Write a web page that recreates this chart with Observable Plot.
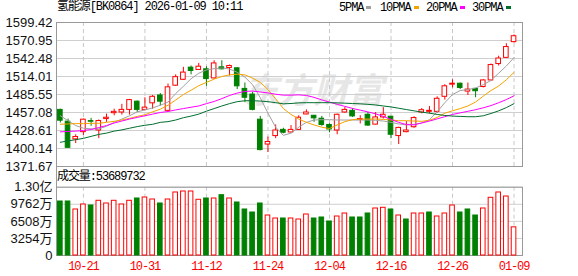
<!DOCTYPE html>
<html><head><meta charset="utf-8">
<script src="https://cdn.jsdelivr.net/npm/d3@7"></script>
<script src="https://cdn.jsdelivr.net/npm/@observablehq/plot@0.6"></script>
<style>
html,body{margin:0;padding:0;background:#fff;}
#root{position:relative;width:578px;height:276px;overflow:hidden;}
#root svg{position:absolute;left:0;}
.mono{font-family:"Liberation Mono","Noto Sans CJK SC",monospace;font-size:12px;letter-spacing:-1.1px;line-height:12px;color:#000;position:absolute;white-space:nowrap;}
.sw{display:inline-block;width:5px;height:3px;margin-left:3px;vertical-align:2px;}
.vol g[aria-label="x-axis tick label"] text{letter-spacing:-1.1px;}
</style></head><body><div id="root"></div>
<script>
// ---------- data ----------
const title = "氢能源[BK0864] 2026-01-09 10:11";
const volumeLabel = "成交量:53689732";
const dates = ["10-16","10-17","10-20","10-21","10-22","10-23","10-24","10-27","10-28","10-29","10-30","10-31",
"11-03","11-04","11-05","11-06","11-07","11-10","11-11","11-12","11-13","11-14","11-17","11-18","11-19","11-20","11-21","11-24","11-25","11-26","11-27","11-28",
"12-01","12-02","12-03","12-04","12-05","12-08","12-09","12-10","12-11","12-12","12-15","12-16","12-17","12-18","12-19","12-22","12-23","12-24","12-25","12-26","12-29","12-30","12-31",
"01-05","01-06","01-07","01-08","01-09"];
const open  = [1461.2,1442.6,1414.6,1426.0,1443.5,1428.6,1446.7,1456.0,1457.1,1461.2, 1474.2,1461.2,1471.6,1484.0,1459.7,1499.5,1508.8,1528.0,1524.4,1525.4, 1511.0,1528.5,1527.5,1527.0,1494.4,1485.5,1445.7,1406.4,1419.8,1429.6, 1425.5,1429.6,1454.0,1451.9,1447.2,1437.4,1428.6,1457.1,1459.7,1445.2, 1453.5,1437.9,1449.3,1450.4,1419.8,1426.0,1433.8,1457.1,1458.1,1458.1, 1481.9,1501.1,1502.6,1490.2,1494.4,1497.4,1507.8,1533.7,1543.5,1568.4];
const high  = [1462.3,1446.7,1421.9,1446.7,1447.8,1445.2,1454.5,1462.3,1470.0,1477.8, 1475.2,1480.4,1484.0,1487.1,1502.1,1516.6,1528.5,1530.6,1534.7,1529.5, 1538.9,1538.9,1532.1,1528.0,1503.7,1489.2,1450.9,1418.3,1437.4,1432.2, 1436.4,1451.9,1461.2,1452.4,1450.9,1439.0,1454.5,1464.8,1463.3,1451.9, 1457.1,1457.1,1464.8,1450.9,1433.8,1442.6,1450.4,1463.3,1466.4,1481.9, 1501.1,1508.8,1503.7,1503.7,1494.9,1508.8,1533.7,1546.1,1565.8,1579.8];
const low   = [1440.5,1400.7,1407.9,1420.8,1435.3,1415.7,1441.5,1451.9,1452.9,1452.9, 1457.1,1459.7,1462.3,1467.4,1458.1,1498.5,1507.8,1516.6,1524.4,1498.5, 1509.9,1524.4,1515.0,1493.3,1472.6,1459.7,1396.5,1393.9,1415.7,1423.4, 1424.5,1428.6,1453.5,1441.5,1435.3,1425.0,1421.9,1456.0,1449.3,1439.0, 1435.3,1437.4,1446.7,1415.7,1406.4,1425.0,1432.2,1455.0,1455.0,1456.0, 1476.7,1495.9,1493.3,1484.0,1480.4,1495.9,1506.8,1530.6,1542.5,1566.8];
const close = [1444.1,1401.2,1418.3,1445.7,1442.5,1443.6,1448.8,1458.1,1461.2,1476.7, 1461.2,1464.8,1481.9,1474.2,1496.9,1513.0,1520.2,1522.8,1529.5,1509.9, 1534.7,1525.4,1530.6,1498.5,1480.4,1461.2,1397.6,1410.5,1428.6,1425.0, 1429.6,1448.8,1457.1,1447.8,1437.4,1430.2,1453.5,1461.2,1450.9,1446.7, 1436.4,1449.3,1453.5,1421.9,1432.7,1428.6,1448.3,1460.7,1459.7,1478.8, 1498.5,1502.6,1495.9,1493.3,1490.7,1507.8,1532.1,1542.5,1560.6,1577.7];
const ma5  = [1451.9,1444.1,1436.4,1432.2,1431.2,1431.2,1435.3,1441.5,1446.7,1451.9, 1458.1,1461.2,1464.3,1468.5,1473.6,1487.1,1498.5,1510.4,1519.2,1524.4, 1526.4,1527.5,1525.9,1520.7,1513.0,1501.1,1480.4,1456.0,1433.8,1420.9, 1424.5,1433.8,1441.5,1445.2,1445.7,1445.7,1445.2,1445.2,1445.2,1445.2, 1445.2,1444.7,1443.6,1441.5,1439.0,1437.4,1438.4,1440.5,1445.7,1458.1, 1472.6,1485.5,1491.8,1493.3,1495.9,1501.1,1507.8,1519.2,1530.6,1544.0];
const ma10 = [1438.4,1439.0,1439.5,1439.5,1440.0,1440.0,1441.5,1443.1,1445.2,1447.8, 1450.9,1453.5,1458.1,1462.3,1468.5,1476.8,1485.5,1492.3,1499.5,1504.7, 1509.9,1514.0,1516.6,1517.6,1516.6,1511.4,1504.7,1493.3,1478.8,1463.3, 1454.0,1446.7,1441.5,1437.4,1433.8,1431.7,1437.4,1442.6,1445.7,1446.7, 1446.7,1446.7,1446.2,1445.2,1444.1,1444.1,1443.6,1443.1,1444.7,1449.3, 1456.0,1459.7,1463.3,1467.4,1473.6,1483.0,1491.8,1499.0,1508.8,1520.7];
const ma20 = [1426.5,1427.1,1427.6,1428.6,1430.2,1433.3,1436.4,1440.5,1443.6,1446.7, 1449.3,1451.9,1454.5,1457.1,1458.6,1461.2,1463.3,1465.4,1467.4,1471.1, 1474.5,1479.0,1484.0,1487.8,1490.4,1491.0,1489.5,1488.0,1486.0,1484.5, 1484.5,1485.0,1484.0,1481.0,1477.0,1473.5,1470.0,1466.8,1463.5,1460.8, 1458.0,1455.0,1451.0,1446.0,1441.5,1438.0,1437.5,1440.5,1443.5,1447.0, 1450.5,1454.0,1456.5,1459.0,1461.5,1464.5,1468.0,1472.5,1477.5,1483.5];
const ma30 = [1410.0,1412.1,1414.1,1416.2,1419.3,1422.4,1424.5,1427.6,1429.6,1432.2, 1434.8,1436.9,1438.4,1441.5,1442.6,1445.2,1448.8,1451.4,1454.5,1459.2, 1463.3,1467.4,1471.1,1474.2,1475.7,1475.7,1475.2,1474.2,1472.6,1470.8, 1471.3,1472.3,1472.6,1472.6,1472.6,1472.6,1472.3,1471.8,1471.3,1470.8, 1470.0,1469.0,1467.4,1465.9,1463.8,1461.7,1459.7,1457.6,1456.0,1454.0, 1452.4,1451.4,1450.9,1450.4,1450.4,1451.9,1455.5,1459.7,1464.8,1471.1];
const volume = [102920000,102920000,87680000,97210000,95300000,104260000,99110000,104260000,97210000,104260000,
 108640000,110550000,106740000,99110000,106740000,120080000,121980000,121980000,106170000,108640000,
 108640000,114930000,108640000,101020000,87680000,81960000,99110000,76240000,70520000,70520000,
 70520000,68620000,78150000,70520000,72430000,64800000,74330000,80050000,72430000,72430000,
 80050000,89580000,90920000,87680000,76240000,68620000,80050000,80050000,81960000,74330000,
 80050000,95300000,81960000,87680000,76240000,89580000,109980000,120080000,112450000,53689732];
const volUp = [0,0,1,1,0,1,1,1,1,1, 0,1,1,0,1,1,1,1,1,0, 1,0,1,0,0,0,0,1,1,0, 1,1,1,0,0,0,1,1,0,0, 0,1,1,0,1,0,1,1,0,1, 1,1,0,0,0,1,1,1,1,1];
const priceTicks = [1371.67,1400.14,1428.61,1457.08,1485.55,1514.01,1542.48,1570.95,1599.42];
const volTicks = [0,32540000,65080000,97620000,130160000];
const volTickLabels = ["0","3254万","6508万","9762万","1.30亿"];
const xTickDates = ["10-21","10-31","11-12","11-24","12-04","12-16","12-26","01-09"];
const maNames = ["5PMA","10PMA","20PMA","30PMA"];
const maColors = ["#a0a0a0","#f5a300","#ff00ff","#006f2e"];

// ---------- chart ----------
const RED = "#ff0000", GREEN = "#008000";
const idx = d3.range(dates.length);
const candles = idx.map(i => ({i, o: open[i], h: high[i], l: low[i], c: close[i]}));
const isUp = d => d.c >= d.o;
const xTickIdx = xTickDates.map(t => dates.indexOf(t));
const xDomain = [-0.5, 60.1];
const sans = "Liberation Sans, Noto Sans CJK SC, sans-serif";
const mono = "Liberation Mono, Noto Sans CJK SC, monospace";
const mas = [ma5, ma10, ma20, ma30];

const price = Plot.plot({
  width: 578, height: 170,
  marginLeft: 56, marginRight: 56, marginTop: 22, marginBottom: 4,
  x: {domain: xDomain, axis: null},
  y: {domain: [priceTicks[0], priceTicks[priceTicks.length - 1]], axis: null},
  style: {background: "transparent", overflow: "visible"},
  marks: [
    Plot.text(["东方财富"], {frameAnchor: "middle", dx: 24, dy: -3, fontSize: 35, fontWeight: "bold", fontStyle: "italic", fontFamily: "Noto Sans CJK SC", fill: "#e6e6e6"}),
    Plot.gridY(priceTicks, {stroke: "#cfcfcf", strokeOpacity: 1}),
    Plot.ruleX(xTickIdx, {stroke: "#c8c8c8", strokeDasharray: "4,3"}),
    Plot.frame({stroke: "#999"}),
    Plot.axisY(priceTicks, {tickSize: 0, tickPadding: 4, tickFormat: d => d.toFixed(2), fontSize: 13, fontFamily: sans, fill: "#111"}),
    Plot.ruleX(candles, {x: "i", y1: "l", y2: "h", stroke: d => isUp(d) ? RED : GREEN}),
    Plot.rect(candles, {x1: d => d.i - 0.3, x2: d => d.i + 0.3, y1: "o", y2: "c", fill: d => isUp(d) ? "#fff" : GREEN, stroke: d => isUp(d) ? RED : GREEN}),
    ...mas.map((m, k) => Plot.line(idx, {x: i => i, y: i => m[i], stroke: maColors[k], strokeWidth: 1}))
  ]
});
price.style.top = "0px";

const vol = Plot.plot({
  width: 578, height: 106,
  marginLeft: 56, marginRight: 56, marginTop: 16.7, marginBottom: 21,
  className: "vol",
  x: {domain: xDomain, axis: null},
  y: {domain: [0, volTicks[volTicks.length - 1]], axis: null},
  style: {background: "transparent", overflow: "visible"},
  marks: [
    Plot.gridY(volTicks, {stroke: "#cfcfcf", strokeOpacity: 1}),
    Plot.ruleX(xTickIdx, {stroke: "#c8c8c8", strokeDasharray: "4,3"}),
    Plot.frame({stroke: "#999"}),
    Plot.axisY(volTicks, {tickSize: 0, tickPadding: 4, tickFormat: d => volTickLabels[volTicks.indexOf(d)], fontSize: 13, fontFamily: sans, fill: "#111"}),
    Plot.rect(idx, {x1: i => i - 0.3, x2: i => i + 0.3, y1: 0, y2: i => volume[i], fill: i => volUp[i] ? "#fff" : GREEN, stroke: i => volUp[i] ? RED : GREEN}),
    Plot.axisX(xTickIdx, {tickSize: 0, tickPadding: 6, tickFormat: i => dates[i], fontSize: 12, fontFamily: mono, fill: RED, color: RED})
  ]
});
vol.style.top = "170px";

const root = document.getElementById("root");
root.appendChild(price);
root.appendChild(vol);

// left connector line between the panes
const conn = document.createElement("div");
conn.style.cssText = "position:absolute;left:56px;top:166px;width:1px;height:21px;background:#999;";
root.appendChild(conn);

const t = document.createElement("div");
t.className = "mono"; t.style.left = "57px"; t.style.top = "1px"; t.textContent = title;
root.appendChild(t);

const legendX = [339, 380, 426, 472];
maNames.forEach((n, k) => {
  const d = document.createElement("div");
  d.className = "mono"; d.style.left = legendX[k] + "px"; d.style.top = "2px";
  d.innerHTML = n + '<span class="sw" style="background:' + maColors[k] + '"></span>';
  root.appendChild(d);
});

const vl = document.createElement("div");
vl.className = "mono"; vl.style.left = "57px"; vl.style.top = "171px"; vl.textContent = volumeLabel;
root.appendChild(vl);
</script></body></html>
